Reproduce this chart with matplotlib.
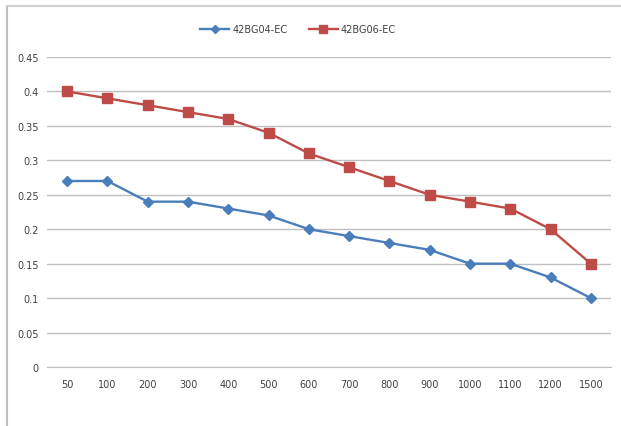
import matplotlib
matplotlib.use("Agg")
import matplotlib.pyplot as plt
from matplotlib.lines import Line2D

categories = ["50", "100", "200", "300", "400", "500", "600", "700", "800", "900", "1000", "1100", "1200", "1500"]
series_a = [0.27, 0.27, 0.24, 0.24, 0.23, 0.22, 0.20, 0.19, 0.18, 0.17, 0.15, 0.15, 0.13, 0.10]
series_b = [0.40, 0.39, 0.38, 0.37, 0.36, 0.34, 0.31, 0.29, 0.27, 0.25, 0.24, 0.23, 0.20, 0.15]
yticks = [0, 0.05, 0.1, 0.15, 0.2, 0.25, 0.3, 0.35, 0.4, 0.45]
ytick_labels = ["0", "0.05", "0.1", "0.15", "0.2", "0.25", "0.3", "0.35", "0.4", "0.45"]

W, H = 621, 427
fig = plt.figure(figsize=(W / 100, H / 100), dpi=100)
ax = fig.add_axes([47 / W, (H - 368) / H, (611 - 47) / W, (368 - 58) / H])

x = list(range(len(categories)))
ax.plot(x, series_a, color="#4A7EBB", marker="D", markersize=5, linewidth=1.7, label="42BG04-EC", zorder=3)
ax.plot(x, series_b, color="#BE4B48", marker="s", markersize=6.5, linewidth=1.7, label="42BG06-EC", zorder=3)

ax.set_xlim(-0.5, len(categories) - 0.5)
ax.set_ylim(0, 0.45)
ax.set_yticks(yticks)
ax.set_yticklabels(ytick_labels)
ax.set_xticks(x)
ax.set_xticklabels(categories)
ax.grid(axis="y", color="#BFBFBF", linewidth=1)
ax.set_axisbelow(True)
for s in ["top", "right", "left"]:
    ax.spines[s].set_visible(False)
ax.spines["bottom"].set_color("#BFBFBF")
ax.tick_params(axis="both", length=0, labelsize=7, labelcolor="#404040")
ax.tick_params(axis="x", pad=9)
ax.tick_params(axis="y", pad=6)

leg = fig.legend(loc="center", bbox_to_anchor=(298 / W, (H - 30) / H), ncol=2, frameon=False,
                 fontsize=7, handlelength=3, columnspacing=2.2, handletextpad=0.3, markerscale=0.8)
for t in leg.get_texts():
    t.set_color("#404040")

fig.add_artist(Line2D([7 / W, 7 / W], [0, (H - 7) / H], color="#BFBFBF", linewidth=1.5, transform=fig.transFigure))
fig.add_artist(Line2D([7 / W, 1], [(H - 7) / H, (H - 7) / H], color="#D0D0D0", linewidth=1.5, transform=fig.transFigure))

fig.savefig("out.png", dpi=100)
